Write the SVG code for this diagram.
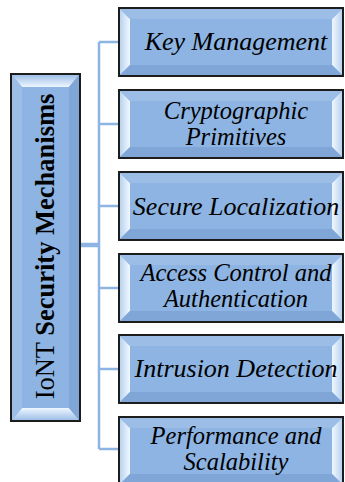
<svg xmlns="http://www.w3.org/2000/svg" width="345" height="482" viewBox="0 0 345 482">
<style>
.box{fill:#8db4e2;stroke:#1c1c1c;stroke-width:2}
.lbl{font-family:"Liberation Serif","Times New Roman",serif;font-style:italic;font-size:26px;fill:#000;text-anchor:middle}
.lbl2{font-family:"Liberation Serif","Times New Roman",serif;font-style:italic;font-size:24.5px;fill:#000;text-anchor:middle}
.main{font-family:"Liberation Serif","Times New Roman",serif;font-size:26.5px;fill:#000;text-anchor:middle}
.conn{stroke:#8db4e2;stroke-width:2.5;fill:none}
</style>
<defs>
<linearGradient id="gl" x1="0" y1="0" x2="1" y2="0"><stop offset="0" stop-color="#b9d3f0"/><stop offset="1" stop-color="#f2f8ff"/></linearGradient>
<linearGradient id="gr" x1="1" y1="0" x2="0" y2="0"><stop offset="0" stop-color="#b9d3f0"/><stop offset="1" stop-color="#f2f8ff"/></linearGradient>
<linearGradient id="gt" x1="0" y1="0" x2="0" y2="1"><stop offset="0" stop-color="#9fc0e8"/><stop offset="1" stop-color="#eef6ff"/></linearGradient>
<linearGradient id="gb" x1="0" y1="1" x2="0" y2="0"><stop offset="0" stop-color="#9fc0e8"/><stop offset="1" stop-color="#eef6ff"/></linearGradient>
<g id="bevel">
<polygon points="1,1 11,11 11,57 1,67" fill="url(#gl)"/>
<polygon points="223,1 213,11 213,57 223,67" fill="url(#gr)"/>
<polygon points="1,1 223,1 213,11 11,11" fill="#9cbde6"/>
<polygon points="1,67 223,67 213,57 11,57" fill="#7fa6d6"/>
</g>
</defs>
<g id="connectors">
<line class="conn" x1="99" y1="42" x2="99" y2="449"/>
<line class="conn" x1="99" y1="42" x2="120" y2="42"/>
<line class="conn" x1="99" y1="124" x2="120" y2="124"/>
<line class="conn" x1="99" y1="206" x2="120" y2="206"/>
<line class="conn" x1="99" y1="288" x2="120" y2="288"/>
<line class="conn" x1="99" y1="369" x2="120" y2="369"/>
<line class="conn" x1="99" y1="449" x2="120" y2="449"/>
<line stroke="#8db4e2" stroke-width="4.5" x1="80" y1="245" x2="100" y2="245"/>
</g>
<g id="main">
<rect class="box" x="11" y="74" width="69" height="347"/>
<polygon points="12,75 79,75 69,87 22,87" fill="url(#gt)"/>
<polygon points="12,420 79,420 69,408 22,408" fill="url(#gb)"/>
<polygon points="12,75 22,87 22,408 12,420" fill="#9cbde6"/>
<polygon points="79,75 69,87 69,408 79,420" fill="#7fa6d6"/>
<rect x="11" y="74" width="69" height="347" fill="none" stroke="#1c1c1c" stroke-width="2"/>
<text class="main" transform="translate(54,246.5) rotate(-90)">IoNT <tspan font-weight="bold">Security Mechanisms</tspan></text>
</g>
<g id="n1">
<rect class="box" x="119" y="8" width="224" height="68"/>
<use href="#bevel" x="119" y="8"/>
<rect x="119" y="8" width="224" height="68" fill="none" stroke="#1c1c1c" stroke-width="2"/>
<text class="lbl" x="236" y="50">Key Management</text>
</g>
<g id="n2">
<rect class="box" x="119" y="90" width="224" height="68"/>
<use href="#bevel" x="119" y="90"/>
<rect x="119" y="90" width="224" height="68" fill="none" stroke="#1c1c1c" stroke-width="2"/>
<text class="lbl2" x="236" y="119">Cryptographic</text>
<text class="lbl2" x="236" y="145">Primitives</text>
</g>
<g id="n3">
<rect class="box" x="119" y="172" width="224" height="68"/>
<use href="#bevel" x="119" y="172"/>
<rect x="119" y="172" width="224" height="68" fill="none" stroke="#1c1c1c" stroke-width="2"/>
<text class="lbl" x="236" y="215">Secure Localization</text>
</g>
<g id="n4">
<rect class="box" x="119" y="254" width="224" height="68"/>
<use href="#bevel" x="119" y="254"/>
<rect x="119" y="254" width="224" height="68" fill="none" stroke="#1c1c1c" stroke-width="2"/>
<text class="lbl2" x="236" y="281">Access Control and</text>
<text class="lbl2" x="236" y="307">Authentication</text>
</g>
<g id="n5">
<rect class="box" x="119" y="335" width="224" height="68"/>
<use href="#bevel" x="119" y="335"/>
<rect x="119" y="335" width="224" height="68" fill="none" stroke="#1c1c1c" stroke-width="2"/>
<text class="lbl" x="236" y="377">Intrusion Detection</text>
</g>
<g id="n6">
<rect class="box" x="119" y="417" width="224" height="68"/>
<use href="#bevel" x="119" y="417"/>
<rect x="119" y="417" width="224" height="68" fill="none" stroke="#1c1c1c" stroke-width="2"/>
<text class="lbl2" x="236" y="444">Performance and</text>
<text class="lbl2" x="236" y="470">Scalability</text>
</g>
</svg>
